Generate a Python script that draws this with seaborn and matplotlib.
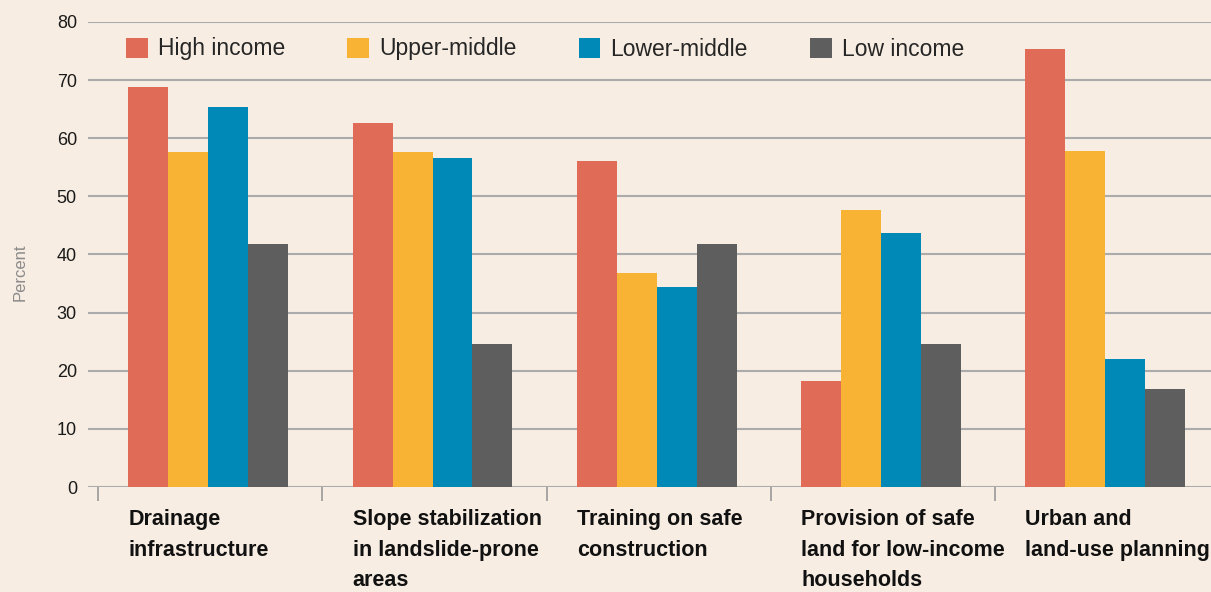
import numpy as np
import pandas as pd
import seaborn as sns
import matplotlib.pyplot as plt

# data
categories = ["Drainage\ninfrastructure",
              "Slope stabilization\nin landslide-prone\nareas",
              "Training on safe\nconstruction",
              "Provision of safe\nland for low-income\nhouseholds",
              "Urban and\nland-use planning"]
groups = ["High income", "Upper-middle", "Lower-middle", "Low income"]
high_income = [68.8, 62.6, 56.1, 18.2, 75.4]
upper_middle = [57.6, 57.6, 36.8, 47.7, 57.8]
lower_middle = [65.4, 56.6, 34.4, 43.7, 22.0]
low_income = [41.8, 24.6, 41.8, 24.6, 16.9]
y_ticks = [0, 10, 20, 30, 40, 50, 60, 70, 80]

colors = ["#e06b57", "#f8b334", "#0089b7", "#5e5e5e"]
bg = "#f7ede2"

df = pd.DataFrame({
    "cat": np.repeat(np.arange(len(categories)), 4),
    "group": groups * len(categories),
    "val": [v for row in zip(high_income, upper_middle, lower_middle, low_income) for v in row],
})

sns.set_style("white")
plt.rcParams['font.family'] = ['Liberation Sans', 'DejaVu Sans']

fig = plt.figure(figsize=(12.11, 5.92), dpi=100, facecolor=bg)
ax = fig.add_axes([88 / 1211, 105 / 592, 1 - 88 / 1211, 465 / 592])
ax.set_facecolor(bg)

sns.barplot(data=df, x="cat", y="val", hue="group", hue_order=groups,
            palette=colors, width=0.713, saturation=1, ax=ax,
            native_scale=True, zorder=3, linewidth=0)

ax.set_ylim(0, 80)
ax.set_xlim(-0.536, 4.471)
ax.set_yticks(y_ticks)
ax.grid(axis='y', color='#ababab', lw=1.5, zorder=0)
ax.grid(axis='x', visible=False)
ax.set_axisbelow(True)
for s in ax.spines.values():
    s.set_visible(False)

ax.tick_params(axis='y', length=0, pad=8, labelsize=13, labelcolor='#1a1a1a')

# category labels left-aligned with the first bar, ticks between groups
ax.set_xticks(np.arange(len(categories)) - 0.3565)
ax.set_xticklabels(categories, ha='left', fontsize=15.5, fontweight='bold',
                   linespacing=1.6, color='#111111')
ax.tick_params(axis='x', which='major', length=0, pad=16, bottom=True)
ax.set_xticks(np.arange(len(categories)) - 0.491, minor=True)
ax.tick_params(axis='x', which='minor', length=10, width=1.2, color='#9a9a9a',
               bottom=True, direction='out')

ax.set_xlabel("")
ax.set_ylabel("Percent", color='#8a8a8a', fontsize=12)
ax.yaxis.set_label_coords(-0.054, 0.462)

ax.legend(loc='center left', bbox_to_anchor=(126 / 1211, 1 - 49 / 592),
          bbox_transform=fig.transFigure, ncol=4, frameon=False,
          fontsize=16.5, handlelength=0.95, handleheight=0.95,
          handletextpad=0.45, columnspacing=2.7, borderpad=0, borderaxespad=0)

plt.savefig("out.png", dpi=100, facecolor=bg)
